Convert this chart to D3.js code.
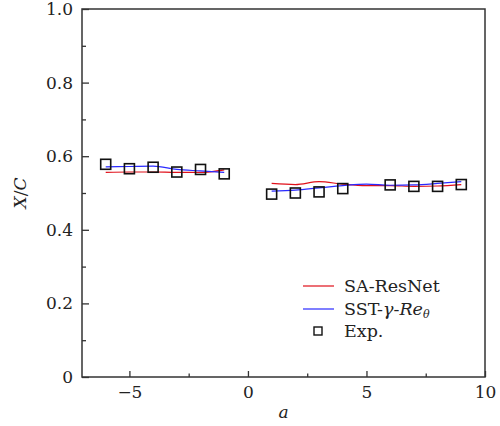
<!DOCTYPE html>
<html lang="en">
<head>
<meta charset="UTF-8">
<title>X/C vs a</title>
<script src="https://cdn.jsdelivr.net/npm/d3@7"></script>
<style>
  body { margin: 0; background: #fff; }
  svg text { font-family: "DejaVu Serif", "Liberation Serif", serif; fill: #222; }
</style>
</head>
<body>
<div id="chart"></div>
<script>
// data
var aLeft = [-6, -5, -4, -3, -2, -1];
var aRight = [1, 2, 3, 4, 5, 6, 7, 8, 9];
var aExpRight = [1, 2, 3, 4, 6, 7, 8, 9];

var resnetLeft = [0.556, 0.557, 0.557, 0.556, 0.556, 0.563];
var resnetRight = [0.526, 0.523, 0.531, 0.524, 0.520, 0.520, 0.518, 0.519, 0.523];
var sstLeft = [0.571, 0.572, 0.573, 0.564, 0.560, 0.556];
var sstRight = [0.505, 0.508, 0.514, 0.520, 0.524, 0.521, 0.522, 0.526, 0.531];
var expLeft = [0.578, 0.566, 0.570, 0.557, 0.564, 0.552];
var expRight = [0.497, 0.500, 0.503, 0.512, 0.522, 0.518, 0.518, 0.523];

var xTicks = [-5, 0, 5, 10];
var yTicks = [0, 0.2, 0.4, 0.6, 0.8, 1.0];

var width = 500, height = 426;
var margin = {top: 9, right: 15, bottom: 49, left: 82};
var iw = width - margin.left - margin.right;
var ih = height - margin.top - margin.bottom;

var svg = d3.select("#chart").append("svg")
    .attr("width", width).attr("height", height);
var g = svg.append("g")
    .attr("transform", "translate(" + margin.left + "," + margin.top + ")");

var x = d3.scaleLinear().domain([-7, 10]).range([0, iw]);
var y = d3.scaleLinear().domain([0, 1]).range([ih, 0]);

var axisColor = "#333";
var serif = "DejaVu Serif, Liberation Serif, serif";

// frame
g.append("rect").attr("width", iw).attr("height", ih)
    .attr("fill", "none").attr("stroke", axisColor).attr("stroke-width", 1.5);

// bottom axis (ticks point inward)
var xAxis = g.append("g").attr("transform", "translate(0," + ih + ")")
    .call(d3.axisBottom(x).tickValues(xTicks).tickSizeInner(-6).tickSizeOuter(0)
        .tickFormat(function (d) { return d < 0 ? "\u2212" + Math.abs(d) : d; }));
xAxis.attr("font-family", serif);
xAxis.selectAll(".tick text").attr("y", 9).attr("dy", "0.71em").style("font-size", "17px");
g.append("g").attr("transform", "translate(0," + ih + ")")
    .call(d3.axisBottom(x).tickValues([-2.5, 2.5, 7.5]).tickSizeInner(-3.5).tickSizeOuter(0).tickFormat(""));

// left axis
var yAxis = g.append("g")
    .call(d3.axisLeft(y).tickValues(yTicks).tickSizeInner(-7).tickSizeOuter(0)
        .tickFormat(function (d) { return d === 0 ? "0" : d3.format(".1f")(d); }));
yAxis.attr("font-family", serif);
yAxis.selectAll(".tick text").attr("x", -9).style("font-size", "17px");
g.append("g")
    .call(d3.axisLeft(y).tickValues([0.1, 0.3, 0.5, 0.7, 0.9]).tickSizeInner(-4).tickSizeOuter(0).tickFormat(""));

g.selectAll(".domain").remove();
g.selectAll(".tick line").attr("stroke", axisColor).attr("stroke-width", 1.3);

// axis titles
g.append("text").attr("x", iw / 2).attr("y", ih + 41)
    .attr("text-anchor", "middle").style("font-size", "17px").style("font-style", "italic").text("a");
var yt = svg.append("text")
    .attr("transform", "translate(26," + (margin.top + ih / 2) + ") rotate(-90)")
    .attr("text-anchor", "middle").style("font-size", "17px");
yt.append("tspan").style("font-style", "italic").text("X");
yt.append("tspan").text("/");
yt.append("tspan").style("font-style", "italic").text("C");

// lines
var line = d3.line()
    .x(function (d) { return x(d[0]); })
    .y(function (d) { return y(d[1]); })
    .curve(d3.curveMonotoneX);

function pairs(xs, ys) { return xs.map(function (v, i) { return [v, ys[i]]; }); }

[[aLeft, resnetLeft, "#e0101a"], [aRight, resnetRight, "#e0101a"],
 [aLeft, sstLeft, "#2a2aff"], [aRight, sstRight, "#2a2aff"]].forEach(function (s) {
    g.append("path").datum(pairs(s[0], s[1]))
        .attr("fill", "none").attr("stroke", s[2]).attr("stroke-width", 1.2)
        .attr("d", line);
});

// experiment squares
var sq = 10;
g.selectAll("rect.exp")
    .data(pairs(aLeft, expLeft).concat(pairs(aExpRight, expRight)))
    .enter().append("rect").attr("class", "exp")
    .attr("x", function (d) { return x(d[0]) - sq / 2; })
    .attr("y", function (d) { return y(d[1]) - sq / 2; })
    .attr("width", sq).attr("height", sq)
    .attr("fill", "none").attr("stroke", "#111").attr("stroke-width", 1.6);

// legend
var lg = svg.append("g");
var lx = 303, ly = 286;
lg.append("line").attr("x1", lx).attr("x2", lx + 31).attr("y1", ly).attr("y2", ly)
    .attr("stroke", "#e0101a").attr("stroke-width", 1.2);
lg.append("text").attr("x", lx + 41).attr("y", ly).attr("dy", "0.35em")
    .style("font-size", "17.5px").text("SA-ResNet");
lg.append("line").attr("x1", lx).attr("x2", lx + 31).attr("y1", ly + 23).attr("y2", ly + 23)
    .attr("stroke", "#2a2aff").attr("stroke-width", 1.2);
var t2 = lg.append("text").attr("x", lx + 41).attr("y", ly + 23).attr("dy", "0.35em")
    .style("font-size", "17.5px");
t2.append("tspan").text("SST-");
t2.append("tspan").style("font-style", "italic").text("\u03b3");
t2.append("tspan").text("-");
t2.append("tspan").style("font-style", "italic").text("Re");
t2.append("tspan").style("font-style", "italic").style("font-size", "11px").attr("dy", "3").text("\u03b8");
lg.append("rect").attr("x", lx + 11).attr("y", ly + 41).attr("width", 8).attr("height", 8)
    .attr("fill", "none").attr("stroke", "#111").attr("stroke-width", 1.4);
lg.append("text").attr("x", lx + 41).attr("y", ly + 45).attr("dy", "0.35em")
    .style("font-size", "17.5px").text("Exp.");
</script>
</body>
</html>
